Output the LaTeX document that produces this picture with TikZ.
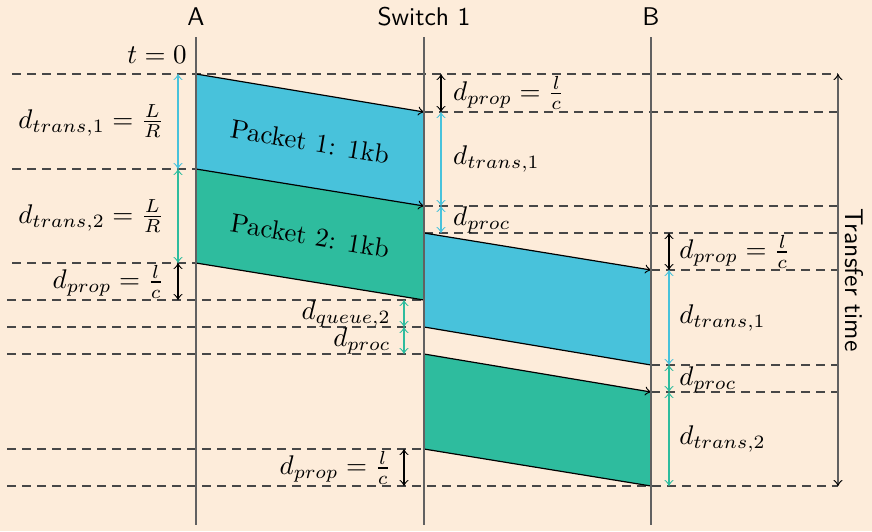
\documentclass[tikz,border=0pt]{standalone}
\usetikzlibrary{arrows.meta}

\definecolor{paper}{RGB}{253,236,218}
\definecolor{pktone}{RGB}{72,194,219}
\definecolor{pkttwo}{RGB}{46,188,158}

\tikzset{
  tip/.tip={Classical TikZ Rightarrow[length=6pt,width=9pt]},
  dline/.style={draw=black!72, line width=1.1pt, dash pattern=on 9pt off 6pt},
  timeline/.style={draw=black!62, line width=1.2pt},
  pktedge/.style={draw=black, line width=1.2pt},
  edgetip/.style={pktedge, -tip},
  meas/.style={line width=1.1pt, tip-tip},
  lbl/.style={scale=2.7, inner sep=1pt},
  pkt/.style={scale=2.66, inner sep=1pt},
  head/.style={font=\sffamily, scale=2.56, inner sep=0.5pt},
}

\begin{document}
\begin{tikzpicture}[x=1pt, y=-1pt]
  % canvas
  \fill[paper] (0,0) rectangle (872,531);
  \useasboundingbox (0,0) rectangle (872,531);

  % time instants on each station line
  \coordinate (a0)  at (196,74);
  \coordinate (a2)  at (196,169);
  \coordinate (a5)  at (196,263);
  \coordinate (s1)  at (424,112);
  \coordinate (s3)  at (424,206);
  \coordinate (s4)  at (424,233);
  \coordinate (s7)  at (424,300);
  \coordinate (s8)  at (424,327);
  \coordinate (s9)  at (424,354);
  \coordinate (s12) at (424,449);
  \coordinate (b6)  at (651,270);
  \coordinate (b10) at (651,365);
  \coordinate (b11) at (651,392);
  \coordinate (b13) at (651,486);

  % free ends of the guide lines
  \coordinate (l0)  at (12,74);
  \coordinate (l2)  at (12,169);
  \coordinate (l5)  at (12,263);
  \coordinate (l7)  at (7,300);
  \coordinate (l8)  at (7,327);
  \coordinate (l9)  at (7,354);
  \coordinate (l12) at (7,449);
  \coordinate (l13) at (7,486);
  \coordinate (r0)  at (838,74);
  \coordinate (r1)  at (838,112);
  \coordinate (r3)  at (838,206);
  \coordinate (r4)  at (838,233);
  \coordinate (r6)  at (838,270);
  \coordinate (r10) at (838,365);
  \coordinate (r11) at (838,392);
  \coordinate (r13) at (838,486);

  % guide lines
  \draw[dline] (l0) -- (r0);
  \draw[dline] (s1) -- (r1);
  \draw[dline] (l2) -- (a2);
  \draw[dline] (s3) -- (r3);
  \draw[dline] (s4) -- (r4);
  \draw[dline] (l5) -- (a5);
  \draw[dline] (b6) -- (r6);
  \draw[dline] (l7) -- (s7);
  \draw[dline] (l8) -- (s8);
  \draw[dline] (l9) -- (s9);
  \draw[dline] (b10) -- (r10);
  \draw[dline] (b11) -- (r11);
  \draw[dline] (l12) -- (s12);
  \draw[dline] (l13) -- (r13);

  % packets in flight
  \fill[pktone] (a0) -- (s1) -- (s3) -- (a2) -- cycle;
  \fill[pkttwo] (a2) -- (s3) -- (s7) -- (a5) -- cycle;
  \fill[pktone] (s4) -- (b6) -- (b10) -- (s8) -- cycle;
  \fill[pkttwo] (s9) -- (b11) -- (b13) -- (s12) -- cycle;

  \draw[edgetip] (a0) -- (s1);
  \draw[edgetip] (a2) -- (s3);
  \draw[pktedge] (a5) -- (s7);
  \draw[edgetip] (s4) -- (b6);
  \draw[pktedge] (s8) -- (b10);
  \draw[edgetip] (s9) -- (b11);
  \draw[pktedge] (s12) -- (b13);

  \node[pkt, rotate=-9.46] (p1) at (310,142) {Packet 1: 1kb};
  \node[pkt, rotate=-9.46] (p2) at (310,236) {Packet 2: 1kb};

  % station lines
  \node[head] (hA) at (196,17) {A};
  \node[head] (hS) at (424,17) {Switch 1};
  \node[head] (hB) at (651,17) {B};
  \coordinate (eA) at (196,525);
  \coordinate (eS) at (424,525);
  \coordinate (eB) at (651,525);
  \draw[timeline] (196,37) -- (eA);
  \draw[timeline] (424,37) -- (eS);
  \draw[timeline] (651,37) -- (eB);

  \node[lbl] (t0) at (157,55) {$t=0$};

  % delays at A
  \coordinate (ma0) at (178,74);
  \coordinate (ma2) at (178,169);
  \coordinate (ma5) at (178,263);
  \coordinate (ma7) at (178,300);
  \draw[meas, pktone] (ma0) -- (ma2);
  \draw[meas, pkttwo] (ma2) -- (ma5);
  \draw[meas, black]  (ma5) -- (ma7);
  \node[lbl, anchor=east] (dA1) at (167,121.5) {$d_{trans,1}=\frac{L}{R}$};
  \node[lbl, anchor=east] (dA2) at (167,216) {$d_{trans,2}=\frac{L}{R}$};
  \node[lbl, anchor=east] (dA3) at (167,281.5) {$d_{prop}=\frac{l}{c}$};

  % delays at the switch, outgoing side
  \coordinate (ms0) at (441,74);
  \coordinate (ms1) at (441,112);
  \coordinate (ms3) at (441,206);
  \coordinate (ms4) at (441,233);
  \draw[meas, black]  (ms0) -- (ms1);
  \draw[meas, pktone] (ms1) -- (ms3);
  \draw[meas, pktone] (ms3) -- (ms4);
  \node[lbl, anchor=west] (dS1) at (450,93) {$d_{prop}=\frac{l}{c}$};
  \node[lbl, anchor=west] (dS2) at (450,159) {$d_{trans,1}$};
  \node[lbl, anchor=west] (dS3) at (450,220) {$d_{proc}$};

  % delays at the switch, incoming side
  \coordinate (mq7)  at (404,300);
  \coordinate (mq8)  at (404,327);
  \coordinate (mq9)  at (404,354);
  \coordinate (mq12) at (404,449);
  \coordinate (mq13) at (404,486);
  \draw[meas, pkttwo] (mq7) -- (mq8);
  \draw[meas, pkttwo] (mq8) -- (mq9);
  \draw[meas, black]  (mq12) -- (mq13);
  \node[lbl, anchor=east] (dQ1) at (394,313.5) {$d_{queue,2}$};
  \node[lbl, anchor=east] (dQ2) at (394,340.5) {$d_{proc}$};
  \node[lbl, anchor=east] (dQ3) at (394,467.5) {$d_{prop}=\frac{l}{c}$};

  % delays at B
  \coordinate (mb4)  at (669,233);
  \coordinate (mb6)  at (669,270);
  \coordinate (mb10) at (669,365);
  \coordinate (mb11) at (669,392);
  \coordinate (mb13) at (669,486);
  \draw[meas, black]  (mb4) -- (mb6);
  \draw[meas, pktone] (mb6) -- (mb10);
  \draw[meas, pkttwo] (mb10) -- (mb11);
  \draw[meas, pkttwo] (mb11) -- (mb13);
  \node[lbl, anchor=west] (dB1) at (676,251.5) {$d_{prop}=\frac{l}{c}$};
  \node[lbl, anchor=west] (dB2) at (676,317.5) {$d_{trans,1}$};
  \node[lbl, anchor=west] (dB3) at (676,380) {$d_{proc}$};
  \node[lbl, anchor=west] (dB4) at (676,439) {$d_{trans,2}$};

  % overall transfer time
  \draw[timeline, {Classical TikZ Rightarrow[length=6pt,width=9pt,color=black]}-{Classical TikZ Rightarrow[length=6pt,width=9pt,color=black]}] (r0) -- (r13);
  \node[head, rotate=-90] (tt) at (854,280) {Transfer time};
\end{tikzpicture}
\end{document}
